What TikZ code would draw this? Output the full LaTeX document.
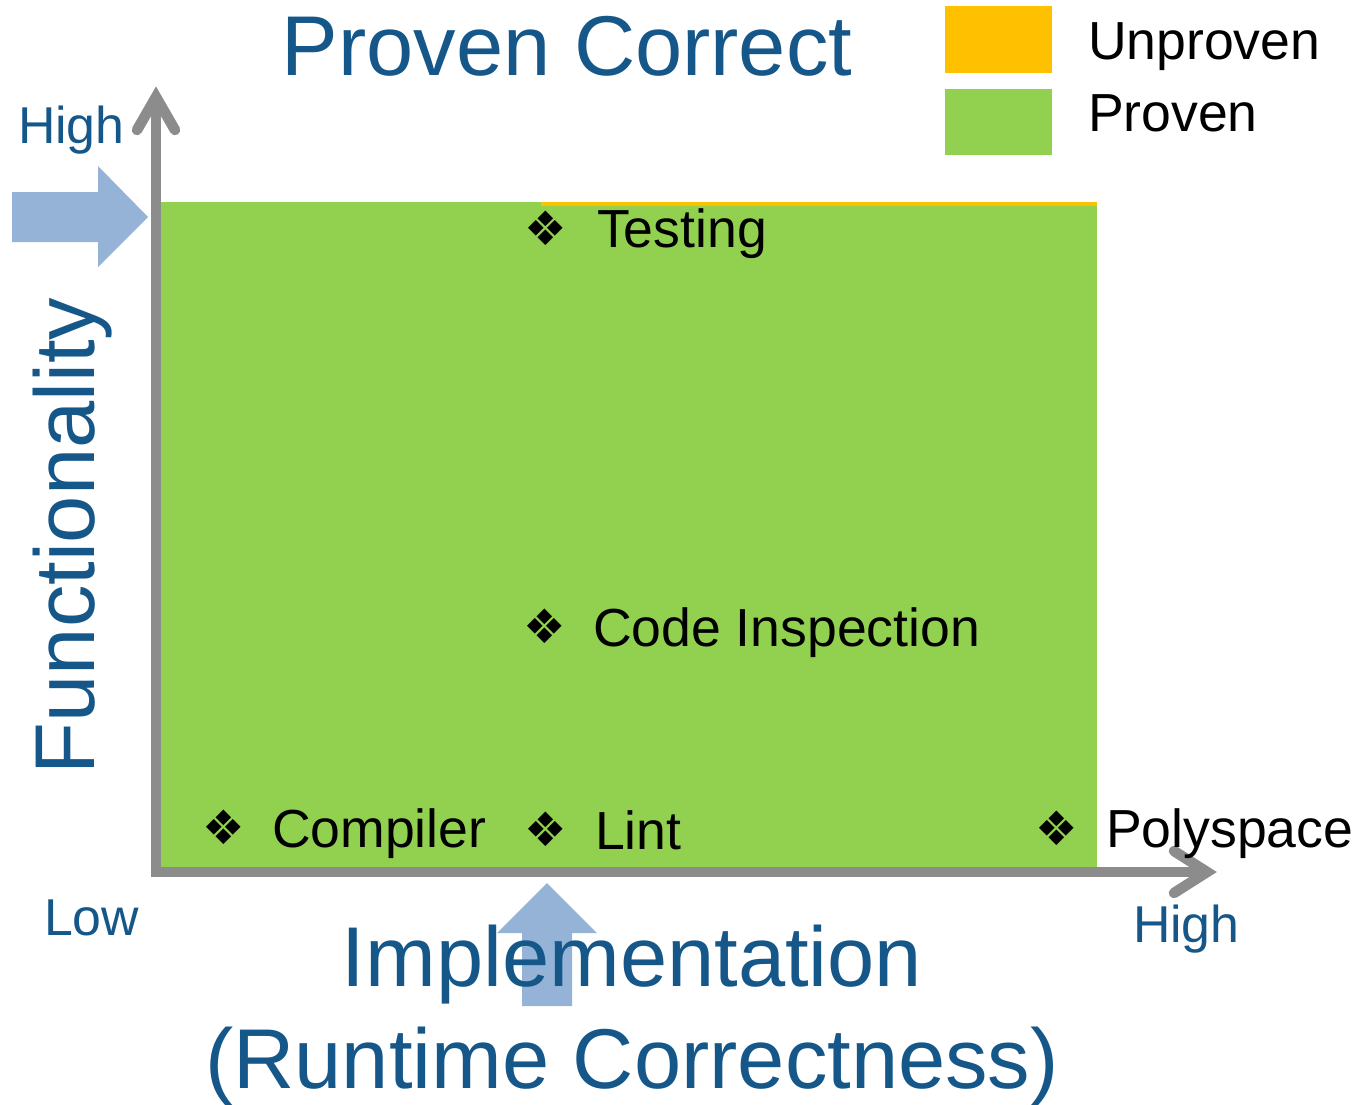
\documentclass[tikz,border=0pt]{standalone}
\usepackage{fontspec}
\setmainfont{Liberation Sans}
\newfontfamily\dingfont{DejaVu Sans}
\definecolor{titleblue}{RGB}{22,87,137}
\definecolor{provengreen}{RGB}{146,208,80}
\definecolor{unprovenorange}{RGB}{255,192,0}
\definecolor{arrowblue}{RGB}{149,179,215}
\definecolor{axisgray}{RGB}{140,140,140}
\begin{document}
\begin{tikzpicture}[x=0.02cm,y=-0.02cm,
  itemlbl/.style={inner sep=0, outer sep=0, anchor=base west, font=\fontsize{30.5}{36}\selectfont},
  axlbl/.style={inner sep=0, outer sep=0, anchor=base west, text=titleblue, font=\fontsize{29.5}{35}\selectfont},
  biglbl/.style={inner sep=0, outer sep=0, anchor=base, text=titleblue, font=\fontsize{48.3}{58}\selectfont},
  bulletmark/.style={inner sep=0, outer sep=0, anchor=center, font=\dingfont\fontsize{27}{30}\selectfont},
  legbox/.style={inner sep=0, outer sep=0, draw=none, minimum width=2.14cm, minimum height=1.34cm},
  axisline/.style={draw=axisgray, line width=6pt},
  chevron/.style={draw=axisgray, line width=6pt, line cap=round, line join=miter},
  blockarrow/.style={fill=arrowblue, draw=none}]
\useasboundingbox (0,0) rectangle (1362,1105);

% plot area
\fill[provengreen] (161,202) rectangle (1097,870);
\fill[unprovenorange] (541,201.5) rectangle (1097,205.5);

% blue block arrows
\fill[blockarrow] (12,192) -- (98,192) -- (98,166) -- (148,217) -- (98,267) -- (98,242) -- (12,242) -- cycle;
\fill[blockarrow] (522,1006) -- (522,933) -- (497,933) -- (547,883) -- (597,933) -- (572,933) -- (572,1006) -- cycle;

% axes
\coordinate (ybot) at (156,877);
\coordinate (ytop) at (156,97);
\coordinate (xstart) at (151,872);
\coordinate (xend) at (1207,872);
\coordinate (ya1) at (137,130);
\coordinate (ya2) at (175,130);
\coordinate (xa1) at (1174,851);
\coordinate (xa2) at (1174,893);
\draw[axisline] (ybot) -- (ytop);
\draw[axisline] (xstart) -- (xend);
\draw[chevron] (ya1) -- (ytop) -- (ya2);
\draw[chevron] (xa1) -- (xend) -- (xa2);

% title and axis titles
\node[biglbl] (title) at (567,76) {Proven Correct};
\node[biglbl, rotate=90] (functionality) at (94,536) {Functionality};
\node[biglbl] (impl1) at (632,986) {Implementation};
\node[biglbl] (impl2) at (632,1088) {(Runtime Correctness)};

% axis end labels
\node[axlbl] (yhigh) at (18,143) {High};
\node[axlbl] (xlow) at (44,935) {Low};
\node[axlbl] (xhigh) at (1133,942) {High};

% legend
\node[legbox, fill=unprovenorange] (legU) at (998.5,39.5) {};
\node[legbox, fill=provengreen] (legP) at (998.5,122) {};
\node[itemlbl] (legUtxt) at (1088,60) {Unproven};
\node[itemlbl] (legPtxt) at (1088,132) {Proven};

% items
\node[bulletmark] (bTesting) at (546,228) {❖};
\node[itemlbl] (tTesting) at (597,247) {Testing};
\node[bulletmark] (bCode) at (545,626) {❖};
\node[itemlbl] (tCode) at (593,646) {Code Inspection};
\node[bulletmark] (bCompiler) at (224,827) {❖};
\node[itemlbl] (tCompiler) at (272,847) {Compiler};
\node[bulletmark] (bLint) at (546,829) {❖};
\node[itemlbl] (tLint) at (595,849) {Lint};
\node[bulletmark] (bPoly) at (1057,828) {❖};
\node[itemlbl] (tPoly) at (1106,847) {Polyspace};
\end{tikzpicture}
\end{document}
